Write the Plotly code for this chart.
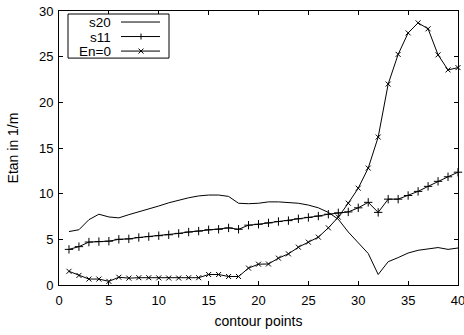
import plotly.graph_objects as go

x_points = list(range(1, 41))

s20 = [5.85, 6.05, 7.15, 7.75, 7.45, 7.35, 7.7, 8.0, 8.35, 8.65,
       9.0, 9.3, 9.55, 9.75, 9.85, 9.85, 9.7, 8.95, 8.9, 8.95,
       9.1, 9.1, 9.05, 8.95, 8.75, 8.45, 7.95, 7.2, 5.8, 4.6,
       3.45, 1.15, 2.55, 3.0, 3.5, 3.8, 3.95, 4.1, 3.9, 4.05]

s11 = [3.9, 4.2, 4.7, 4.75, 4.8, 5.0, 5.05, 5.2, 5.3, 5.4,
       5.5, 5.65, 5.8, 5.9, 6.05, 6.1, 6.25, 6.1, 6.55, 6.65,
       6.8, 6.95, 7.05, 7.25, 7.4, 7.55, 7.75, 7.9, 8.0, 8.45,
       9.05, 7.95, 9.4, 9.4, 9.8, 10.25, 10.8, 11.35, 11.85, 12.35]

en0 = [1.5, 1.05, 0.65, 0.65, 0.4, 0.85, 0.75, 0.8, 0.8, 0.78,
       0.76, 0.76, 0.8, 0.8, 1.15, 1.15, 0.93, 0.93, 1.85, 2.28,
       2.3, 2.94, 3.41, 4.14, 4.69, 5.24, 6.26, 7.43, 8.96, 10.6,
       12.8, 16.2, 22.0, 25.25, 27.6, 28.7, 28.05, 25.2, 23.55, 23.8]

series_names = ["s20", "s11", "En=0"]
x_ticks = [0, 5, 10, 15, 20, 25, 30, 35, 40]
y_ticks = [0, 5, 10, 15, 20, 25, 30]

FONT = "Liberation Sans, Arial, Helvetica, sans-serif"
LINE = "black"

fig = go.Figure()
fig.add_trace(go.Scatter(x=x_points, y=s20, mode="lines", name=series_names[0],
                         line=dict(color=LINE, width=1), cliponaxis=False))
fig.add_trace(go.Scatter(x=x_points, y=s11, mode="lines+markers", name=series_names[1],
                         line=dict(color=LINE, width=1), cliponaxis=False,
                         marker=dict(symbol="cross-thin", size=6,
                                     line=dict(color=LINE, width=1))))
fig.add_trace(go.Scatter(x=x_points, y=en0, mode="lines+markers", name=series_names[2],
                         line=dict(color=LINE, width=1), cliponaxis=False,
                         marker=dict(symbol="x-thin", size=5,
                                     line=dict(color=LINE, width=1))))

axis_common = dict(
    showgrid=False, zeroline=False, showline=True, linecolor="black", linewidth=1,
    mirror="ticks", ticks="inside", ticklen=4, tickwidth=1, tickcolor="black",
    tickfont=dict(family=FONT, size=13, color="black"),
    automargin=False, ticklabeloverflow="allow",
)
fig.update_xaxes(range=[0, 40], tickvals=x_ticks, ticklabelstandoff=3,
                 title=dict(text="contour points", font=dict(family=FONT, size=14, color="black"),
                            standoff=9),
                 **axis_common)
fig.update_yaxes(range=[0, 30], tickvals=y_ticks, ticklabelstandoff=2,
                 title=dict(text="Etan in 1/m", font=dict(family=FONT, size=14, color="black"),
                            standoff=17),
                 **axis_common)

# gnuplot-style legend (label left, sample right), in paper coordinates
W, H = 399.0, 273.5
def px(x):
    return (x - 59) / W
def py(y):
    return (284.5 - y) / H

fig.add_shape(type="rect", xref="paper", yref="paper",
              x0=px(68), x1=px(169), y0=py(58), y1=py(14),
              line=dict(color="black", width=1), fillcolor="white", layer="above")
rows = [22, 36.5, 51]
for name, ry in zip(series_names, rows):
    fig.add_annotation(xref="paper", yref="paper", x=px(112), y=py(ry),
                       text=name, showarrow=False, xanchor="right", yanchor="middle",
                       height=12, borderpad=0,
                       font=dict(family=FONT, size=13.5, color="black"))
    fig.add_shape(type="line", xref="paper", yref="paper",
                  x0=px(121), x1=px(160), y0=py(ry), y1=py(ry),
                  line=dict(color=LINE, width=1), layer="above")
# sample marks
ry = rows[1]
fig.add_shape(type="line", xref="paper", yref="paper", x0=px(141), x1=px(141),
              y0=py(ry + 3), y1=py(ry - 3), line=dict(color=LINE, width=1), layer="above")
ry = rows[2]
fig.add_shape(type="line", xref="paper", yref="paper", x0=px(141 - 2.5), x1=px(141 + 2.5),
              y0=py(ry + 2.5), y1=py(ry - 2.5), line=dict(color=LINE, width=1), layer="above")
fig.add_shape(type="line", xref="paper", yref="paper", x0=px(141 - 2.5), x1=px(141 + 2.5),
              y0=py(ry - 2.5), y1=py(ry + 2.5), line=dict(color=LINE, width=1), layer="above")

fig.update_layout(
    width=464, height=335,
    margin=dict(l=59, r=6, t=11, b=50, pad=0),
    paper_bgcolor="white", plot_bgcolor="white",
    showlegend=False, hovermode=False,
    font=dict(family=FONT, color="black"),
)

# remove the browser's default 8px body margin so the figure fills the window
fig.write_html("out.html",
               config={"displayModeBar": False, "staticPlot": True},
               post_script="document.body.style.margin='0';document.body.style.overflow='hidden';")
